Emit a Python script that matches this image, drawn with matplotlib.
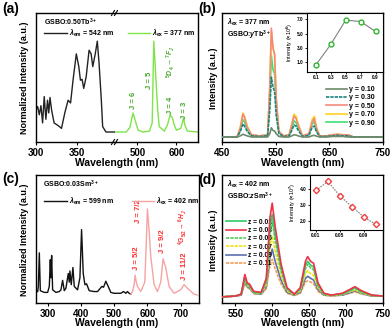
import matplotlib
matplotlib.use("Agg")
import matplotlib.pyplot as plt
from matplotlib.legend import Legend

plt.rcParams['font.family'] = ['Liberation Sans', 'DejaVu Sans']
plt.rcParams['font.weight'] = 'bold'
plt.rcParams['mathtext.fontset'] = 'custom'
plt.rcParams['mathtext.rm'] = 'Liberation Sans:bold'
plt.rcParams['mathtext.it'] = 'Liberation Sans:italic:bold'
plt.rcParams['mathtext.bf'] = 'Liberation Sans:bold'
plt.rcParams['axes.linewidth'] = 1.0

# ---- (a) GSBO:0.50Tb3+ excitation / emission
a_exc_wl = [300, 302, 304, 306, 308, 310, 312, 314, 315.5, 317, 319, 322, 327, 331, 335, 339, 342,
            345, 349, 352, 354, 356, 358, 361, 364.5, 367, 369, 372, 374.5, 376.6, 379.4, 381, 385, 396]
a_exc = [0.24, 0.28, 0.19, 0.29, 0.10, 0.39, 0.14, 0.35, 0.21, 0.38, 0.24, 0.10, 0.07, 0.04, 0.21, 0.35, 0.32,
         0.57, 0.86, 0.72, 0.57, 0.58, 0.48, 0.61, 0.90, 0.86, 0.72, 0.86, 1.00, 0.76, 0.35, 0.06, 0.0, 0.0]
a_em_wl = [443, 472, 481, 489, 493, 502, 514, 531, 538, 542, 545, 548, 552, 556, 569, 577, 584, 590,
           594, 600, 611, 618, 622, 628, 655]
a_em = [0.0, 0.0, 0.05, 0.21, 0.15, 0.02, 0.0, 0.01, 0.10, 1.00, 0.78, 0.55, 0.25, 0.06, 0.01, 0.08, 0.19, 0.15,
        0.08, 0.02, 0.04, 0.15, 0.07, 0.01, 0.0]

# ---- (b) GSBO:yTb3+ emission, lambda_ex = 377 nm
b_wl = [450, 478, 484, 489, 492, 497, 505, 520, 535, 539, 542, 545, 548, 551, 556, 565, 575, 580, 584, 588,
        592, 600, 612, 618, 622, 626, 632, 645, 655, 665, 675, 685, 695, 750]
b_labels = ['0.10', '0.30', '0.50', '0.70', '0.90']
b_y010 = [0.0, 0.0, 0.01, 0.025, 0.02, 0.01, 0.0, 0.0, 0.0, 0.03, 0.085, 0.06, 0.055, 0.03, 0.005, 0.0, 0.0,
          0.01, 0.02, 0.018, 0.01, 0.0, 0.0, 0.012, 0.015, 0.008, 0.0, 0.0, 0.005, 0.005, 0.005, 0.0, 0.0, 0.0]
b_y030 = [0.0, 0.0, 0.05, 0.12, 0.10, 0.05, 0.01, 0.005, 0.01, 0.25, 0.55, 0.46, 0.42, 0.20, 0.03, 0.005, 0.01,
          0.06, 0.11, 0.10, 0.06, 0.005, 0.015, 0.09, 0.10, 0.05, 0.005, 0.005, 0.01, 0.015, 0.01, 0.01, 0.0, 0.0]
b_y050 = [0.0, 0.0, 0.08, 0.21, 0.18, 0.09, 0.02, 0.01, 0.02, 0.45, 1.00, 0.82, 0.76, 0.35, 0.05, 0.01, 0.02,
          0.11, 0.19, 0.17, 0.11, 0.01, 0.03, 0.14, 0.17, 0.08, 0.01, 0.01, 0.02, 0.025, 0.02, 0.02, 0.0, 0.0]
b_y070 = [0.0, 0.0, 0.09, 0.22, 0.19, 0.10, 0.02, 0.01, 0.02, 0.45, 0.97, 0.82, 0.76, 0.36, 0.05, 0.01, 0.02,
          0.12, 0.21, 0.19, 0.12, 0.01, 0.03, 0.16, 0.19, 0.09, 0.01, 0.01, 0.02, 0.025, 0.02, 0.02, 0.0, 0.0]
b_y090 = [0.0, 0.0, 0.06, 0.16, 0.14, 0.07, 0.015, 0.01, 0.015, 0.35, 0.75, 0.62, 0.58, 0.27, 0.04, 0.01, 0.015,
          0.08, 0.15, 0.13, 0.08, 0.01, 0.02, 0.12, 0.14, 0.06, 0.01, 0.01, 0.015, 0.02, 0.015, 0.015, 0.0, 0.0]
b_conc = [0.1, 0.3, 0.5, 0.7, 0.9]
b_int = [0.6, 3.5, 6.9, 6.7, 5.3]

# ---- (c) GSBO:0.03Sm3+ excitation / emission
c_exc_wl = [270, 272, 275, 278, 290, 300, 305, 308, 310, 312, 315, 325, 335, 340, 345, 350, 355, 362, 365, 367,
            371, 376, 380, 390, 397, 402, 407, 412, 417, 425, 440, 450, 463, 468, 475, 482, 490, 500, 520, 528,
            535, 540, 545, 550]
c_exc = [0.04, 0.10, 0.49, 0.05, 0.03, 0.03, 0.10, 0.41, 0.20, 0.46, 0.06, 0.03, 0.04, 0.06, 0.17, 0.05, 0.08,
         0.25, 0.15, 0.28, 0.12, 0.32, 0.10, 0.06, 0.20, 0.76, 0.25, 0.12, 0.13, 0.05, 0.04, 0.04, 0.10, 0.09,
         0.16, 0.10, 0.03, 0.02, 0.02, 0.04, 0.02, 0.04, 0.02, 0.01]
c_em_wl = [550, 555, 560, 563, 566, 570, 580, 592, 596, 600, 605, 610, 620, 630, 640, 647, 655, 665, 680, 700,
           710, 720, 740, 750]
c_em = [0.01, 0.04, 0.12, 0.23, 0.16, 0.10, 0.04, 0.15, 0.55, 1.00, 0.75, 0.45, 0.12, 0.04, 0.15, 0.42, 0.32,
        0.10, 0.02, 0.06, 0.12, 0.08, 0.01, 0.0]

# ---- (d) GSBO:zSm3+ emission, lambda_ex = 402 nm
d_wl = [530, 550, 558, 563, 566, 569, 575, 585, 592, 597, 600, 604, 608, 612, 620, 630, 638, 645, 648, 652,
        656, 662, 670, 680, 695, 705, 712, 720, 735, 750]
d_labels = ['0.01', '0.03', '0.05', '0.07', '0.09', '0.11']
d_z001 = [0.0, 0.01, 0.03, 0.22, 0.14, 0.13, 0.05, 0.045, 0.18, 0.75, 0.88, 0.66, 0.49, 0.31, 0.09, 0.03, 0.09,
          0.34, 0.38, 0.34, 0.32, 0.13, 0.035, 0.02, 0.035, 0.07, 0.10, 0.06, 0.02, 0.01]
d_z003 = [0.0, 0.01, 0.03, 0.24, 0.15, 0.14, 0.06, 0.05, 0.20, 0.85, 1.00, 0.75, 0.55, 0.35, 0.10, 0.03, 0.10,
          0.38, 0.43, 0.38, 0.36, 0.15, 0.04, 0.02, 0.04, 0.08, 0.11, 0.07, 0.02, 0.01]
d_z005 = [0.0, 0.01, 0.03, 0.21, 0.13, 0.12, 0.05, 0.04, 0.16, 0.68, 0.80, 0.60, 0.44, 0.28, 0.08, 0.025, 0.08,
          0.30, 0.35, 0.31, 0.29, 0.12, 0.03, 0.02, 0.03, 0.065, 0.09, 0.055, 0.015, 0.01]
d_z007 = [0.0, 0.01, 0.025, 0.19, 0.12, 0.11, 0.045, 0.035, 0.13, 0.55, 0.65, 0.49, 0.36, 0.23, 0.065, 0.02,
          0.065, 0.25, 0.28, 0.25, 0.23, 0.10, 0.025, 0.015, 0.025, 0.055, 0.075, 0.045, 0.015, 0.01]
d_z009 = [0.0, 0.01, 0.02, 0.17, 0.11, 0.10, 0.04, 0.03, 0.11, 0.43, 0.51, 0.38, 0.28, 0.18, 0.05, 0.02, 0.05,
          0.20, 0.22, 0.20, 0.18, 0.08, 0.02, 0.015, 0.02, 0.045, 0.065, 0.04, 0.01, 0.01]
d_z011 = [0.0, 0.01, 0.02, 0.15, 0.10, 0.09, 0.035, 0.03, 0.09, 0.34, 0.40, 0.30, 0.22, 0.14, 0.04, 0.015, 0.04,
          0.16, 0.17, 0.16, 0.14, 0.06, 0.02, 0.01, 0.02, 0.04, 0.055, 0.035, 0.01, 0.01]
d_conc = [0.01, 0.03, 0.05, 0.07, 0.09, 0.11]
d_int = [3.9, 4.45, 3.55, 2.9, 2.25, 1.8]

W, H = 392, 331
fig = plt.figure(figsize=(W / 100, H / 100), dpi=100)


def ax_px(l, t, r, b):
    return fig.add_axes([l / W, 1 - b / H, (r - l) / W, (b - t) / H])


def style(ax, ticks, lim):
    ax.set_xlim(*lim)
    ax.set_xticks(ticks)
    ax.set_yticks([])
    ax.tick_params(axis='x', direction='out', length=2.5, width=0.8, labelsize=7, pad=1.5)


def inset_style(ax, ylab):
    ax.tick_params(labelsize=3.4, length=1.5, width=0.6, pad=1)
    ax.set_ylabel(ylab, fontsize=4.0, labelpad=1)
    for s in ax.spines.values():
        s.set_linewidth(0.8)


# ================= (a) =================
axL = ax_px(36, 13, 115, 142)
axR = ax_px(115, 13, 198, 142)
axL.plot(a_exc_wl, a_exc, color='#222222', lw=1.0, label=r'$\lambda_{\rm em}$ = 542 nm')
axR.plot(a_em_wl, a_em, color='#7fe34a', lw=1.0, label=r'$\lambda_{\rm ex}$ = 377 nm')
style(axL, [300, 350], (300, 396))
style(axR, [500, 600], (443, 655))
for ax in (axL, axR):
    ax.set_ylim(-0.11, 1.31)
axL.spines['right'].set_visible(False)
axR.spines['left'].set_visible(False)
# break marks
for yy in (13, 142):
    for dx in (-2, 1):
        fig.add_artist(plt.Line2D([(115 + dx - 1.5) / W, (115 + dx + 1.5) / W],
                                  [1 - (yy + 2.5) / H, 1 - (yy - 2.5) / H], color='k', lw=0.8))
axL.text(0.1, 0.93, r'GSBO:0.50Tb$^{3+}$', transform=axL.transAxes, fontsize=5, va='center')
axL.legend(loc='upper left', bbox_to_anchor=(0.07, 0.91), frameon=False, fontsize=5,
           handlelength=3.2, handletextpad=0.3, borderaxespad=0)
axR.legend(loc='upper left', bbox_to_anchor=(0.12, 0.91), frameon=False, fontsize=5,
           handlelength=3.2, handletextpad=0.3, borderaxespad=0)
gtxt = '#45a82a'
for x, y, s in [(489, 0.35, 'J = 6'), (531, 0.57, 'J = 5'), (586, 0.29, 'J = 4'), (621, 0.24, 'J = 3')]:
    axR.text(x, y, s, rotation=90, color=gtxt, fontsize=5.5, ha='center', va='center')
axR.text(586, 0.77, r'$^5D_4$$\rightarrow$$^7F_J$', rotation=90, color=gtxt, fontsize=5,
         ha='center', va='center')
fig.text(25 / W, 1 - 78 / H, 'Normalized Intensity (a.u.)', rotation=90, fontsize=6.5, ha='center', va='center')
fig.text(117 / W, 1 - 163 / H, 'Wavelength (nm)', fontsize=7.5, ha='center', va='center')
fig.text(2 / W, 1 - 9 / H, '(a)', fontsize=10, ha='left', va='center')

# ================= (b) =================
axb = ax_px(222, 13, 383, 142)
b_series = [b_y010, b_y030, b_y050, b_y070, b_y090]
b_colors = ['#6d8a6a', '#17837d', '#f48a7c', '#ffd21f', '#3fdf72']
b_styles = ['-', (0, (2, 0.6)), '-', '-', '-']
b_zorder = [7, 6, 5, 4, 3]
for lab, ys, c, ls, z in zip(b_labels, b_series, b_colors, b_styles, b_zorder):
    axb.plot(b_wl, ys, color=c, lw=1.2, ls=ls, label='y = ' + lab, zorder=z)
style(axb, [450, 550, 650, 750], (450, 750))
axb.set_ylim(-0.046, 1.14)
axb.text(0.03, 0.93, r'$\lambda_{\rm ex}$ = 377 nm', transform=axb.transAxes, fontsize=5, va='center')
axb.text(0.03, 0.83, r'GSBO:$y$Tb$^{3+}$', transform=axb.transAxes, fontsize=5, va='center')
axb.legend(loc='upper left', bbox_to_anchor=(0.63, 0.455), frameon=False, fontsize=5,
           handlelength=3.0, handletextpad=0.3, labelspacing=0.2, borderaxespad=0)
fig.text(213 / W, 1 - 78 / H, 'Intensity (a.u.)', rotation=90, fontsize=6.5, ha='center', va='center')
fig.text(303 / W, 1 - 163 / H, 'Wavelength (nm)', fontsize=7.5, ha='center', va='center')
fig.text(198 / W, 1 - 9 / H, '(b)', fontsize=10, ha='left', va='center')

axbi = ax_px(307, 13, 383, 72)
axbi.plot(b_conc, b_int, color='#808080', lw=0.8, marker='o', ms=3.5, mfc='white', mec='#2db52d', mew=1.0)
axbi.set_xlim(-0.02, 1.0)
axbi.set_ylim(-0.4, 7.9)
axbi.set_xticks([0.1, 0.3, 0.5, 0.7, 0.9])
axbi.set_yticks([1.0, 3.0, 5.0, 7.0])
axbi.set_yticklabels(['1.0', '3.0', '5.0', '7.0'])
inset_style(axbi, r'Intensity ($\times$10$^6$)')

# ================= (c) =================
axc = ax_px(36, 175, 199, 303)
exc_line, = axc.plot(c_exc_wl, c_exc, color='#111111', lw=1.0, label=r'$\lambda_{\rm em}$ = 599 nm')
em_line, = axc.plot(c_em_wl, c_em, color='#f7a3a3', lw=1.0, label=r'$\lambda_{\rm ex}$ = 402 nm')
style(axc, [300, 400, 500, 600, 700], (265, 755))
axc.set_ylim(-0.093, 1.395)
axc.text(0.04, 0.93, r'GSBO:0.03Sm$^{3+}$', transform=axc.transAxes, fontsize=5, va='center')
axc.legend(handles=[exc_line], loc='upper left', bbox_to_anchor=(0.035, 0.86), frameon=False, fontsize=5,
           handlelength=3.2, handletextpad=0.3, borderaxespad=0)
leg2 = Legend(axc, [em_line], [em_line.get_label()], loc='upper left', bbox_to_anchor=(0.57, 0.86),
              frameon=False, fontsize=5, handlelength=3.2, handletextpad=0.3, borderaxespad=0)
axc.add_artist(leg2)
rtxt = '#ff2b2b'
for x, y, s in [(568, 0.43, 'J = 5/2'), (574, 0.98, 'J = 7/2'), (645, 0.62, 'J = 9/2'), (710, 0.33, 'J = 11/2')]:
    axc.text(x, y, s, rotation=90, color=rtxt, fontsize=5.5, ha='center', va='center')
axc.text(707, 0.79, r'$^4G_{5/2}$$\rightarrow$$^6H_J$', rotation=90, color=rtxt, fontsize=4.8,
         ha='center', va='center')
fig.text(25 / W, 1 - 240 / H, 'Normalized Intensity (a.u.)', rotation=90, fontsize=6.5, ha='center', va='center')
fig.text(117 / W, 1 - 323 / H, 'Wavelength (nm)', fontsize=7.5, ha='center', va='center')
fig.text(2 / W, 1 - 179 / H, '(c)', fontsize=10, ha='left', va='center')

# ================= (d) =================
axd = ax_px(222, 175, 383, 303)
d_series = [d_z001, d_z003, d_z005, d_z007, d_z009, d_z011]
d_colors = ['#2fcc6a', '#f2304a', '#5cc85c', '#f2e01a', '#5a70b0', '#f5a058']
d_styles = ['-', '-', (0, (2, 0.6)), (0, (2, 0.6)), '-', (0, (2, 0.6))]
d_z = [4, 6, 3, 2, 1, 0]
for lab, ys, c, ls, z in zip(d_labels, d_series, d_colors, d_styles, d_z):
    axd.plot(d_wl, ys, color=c, lw=1.2, ls=ls, label='z = ' + lab, zorder=z + 2)
style(axd, [550, 600, 650, 700, 750], (532, 750))
axd.set_ylim(-0.064, 1.30)
axd.text(0.03, 0.93, r'$\lambda_{\rm ex}$ = 402 nm', transform=axd.transAxes, fontsize=5, va='center')
axd.text(0.03, 0.83, r'GSBO:$z$Sm$^{3+}$', transform=axd.transAxes, fontsize=5, va='center')
axd.legend(loc='upper left', bbox_to_anchor=(0.01, 0.68), frameon=False, fontsize=4.8,
           handlelength=3.0, handletextpad=0.3, labelspacing=0.2, borderaxespad=0)
fig.text(213 / W, 1 - 240 / H, 'Intensity (a.u.)', rotation=90, fontsize=6.5, ha='center', va='center')
fig.text(303 / W, 1 - 323 / H, 'Wavelength (nm)', fontsize=7.5, ha='center', va='center')
fig.text(198 / W, 1 - 180 / H, '(d)', fontsize=10, ha='left', va='center')

axdi = ax_px(310, 175, 383, 230)
axdi.plot(d_conc, d_int, color='#808080', lw=0.8, ls=(0, (1.5, 1)), marker='D', ms=3.2, mfc='white',
          mec='#f04040', mew=1.0)
axdi.set_xlim(0.0, 0.122)
axdi.set_ylim(1.45, 4.85)
axdi.set_xticks([0.01, 0.05, 0.09])
axdi.set_yticks([2.0, 3.0, 4.0])
axdi.set_yticklabels(['2.0', '3.0', '4.0'])
inset_style(axdi, r'Intensity ($\times$10$^7$)')

fig.savefig('out.png', dpi=100)
